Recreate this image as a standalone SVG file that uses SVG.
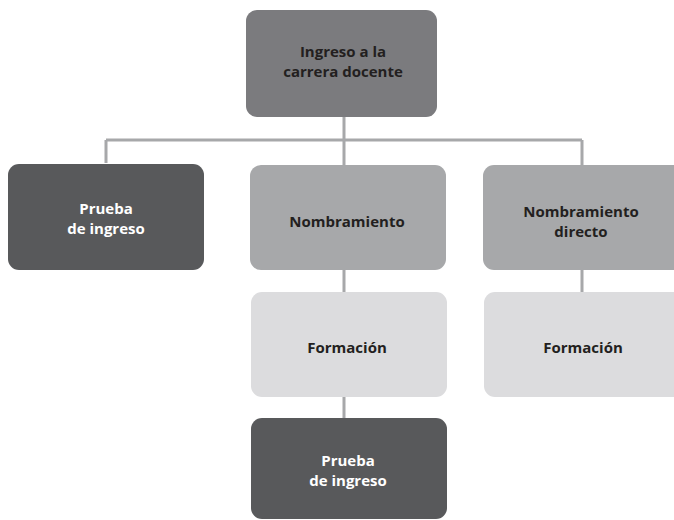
<svg xmlns="http://www.w3.org/2000/svg" width="674" height="520" viewBox="0 0 674 520">
<style>
.box{stroke:none}
.t{font-family:"Open Sans","Liberation Sans",sans-serif;font-weight:bold;font-size:15px;text-anchor:middle;fill:#231f20}
.w{fill:#ffffff}
.c{fill:none;stroke:#a7a8aa;stroke-width:3}
</style>
<rect width="674" height="520" fill="#ffffff"/>
<g id="connectors">
<path class="c" d="M344 117V140M106 140H582M106 140V163M344 140V165M582 140V165M344 270V292M344 397V418M582 270V292"/>
</g>
<g id="top">
<rect class="box" x="246" y="10" width="191" height="107" rx="11" fill="#7b7b7e"/>
<text class="t" x="343" y="57">Ingreso a la</text>
<text class="t" x="343" y="77">carrera docente</text>
</g>
<g id="prueba1">
<rect class="box" x="8" y="164" width="196" height="106" rx="11" fill="#58595b"/>
<text class="t w" x="106" y="214">Prueba</text>
<text class="t w" x="106" y="234">de ingreso</text>
</g>
<g id="nombramiento">
<rect class="box" x="250" y="165" width="196" height="105" rx="11" fill="#a7a8aa"/>
<text class="t" x="347" y="227">Nombramiento</text>
</g>
<g id="nombramiento-directo">
<rect class="box" x="483" y="165" width="202" height="105" rx="11" fill="#a7a8aa"/>
<text class="t" x="581" y="217">Nombramiento</text>
<text class="t" x="581" y="237">directo</text>
</g>
<g id="formacion1">
<rect class="box" x="251" y="292" width="196" height="105" rx="11" fill="#dcdcde"/>
<text class="t" x="347" y="353">Formación</text>
</g>
<g id="formacion2">
<rect class="box" x="484" y="292" width="201" height="105" rx="11" fill="#dcdcde"/>
<text class="t" x="583" y="353">Formación</text>
</g>
<g id="prueba2">
<rect class="box" x="251" y="418" width="196" height="101" rx="11" fill="#58595b"/>
<text class="t w" x="348" y="466">Prueba</text>
<text class="t w" x="348" y="486">de ingreso</text>
</g>
</svg>
